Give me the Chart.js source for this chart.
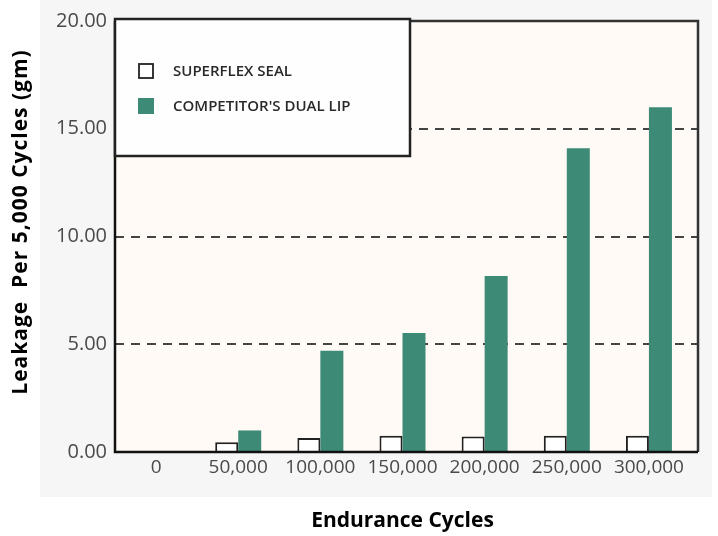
<!DOCTYPE html>
<html>
<head>
<meta charset="utf-8">
<script src="https://cdn.jsdelivr.net/npm/chart.js@4"></script>
<style>
  html, body { margin: 0; padding: 0; background: #ffffff; }
  #wrap { width: 718px; height: 536px; }
</style>
</head>
<body>
<div id="wrap"><canvas id="leakChart" width="718" height="536"></canvas></div>
<script>
// endurance cycles on the x axis
const categories = ["0", "50,000", "100,000", "150,000", "200,000", "250,000", "300,000"];
// leakage per 5,000 cycles (gm)
const superflexSeal = [0, 0.45, 0.65, 0.75, 0.72, 0.75, 0.75];
const competitorDualLip = [0, 1.0, 4.7, 5.52, 8.17, 14.1, 16.0];
const seriesLabels = ["SUPERFLEX SEAL", "COMPETITOR'S DUAL LIP"];
const yTicks = [0, 5, 10, 15, 20];
const dashedAt = [5, 10, 15];

const green = "#3d8a77";
const frameRight = 698;

// background panel, plot fill, dashed lines and the frame
const framePlugin = {
  id: "frame",
  beforeDraw(chart) {
    const ctx = chart.ctx;
    const a = chart.chartArea;
    const y = chart.scales.y;
    ctx.save();
    ctx.fillStyle = "#f6f6f6";
    ctx.fillRect(40, 0, 672, 497);
    ctx.fillStyle = "#fffaf6";
    ctx.fillRect(a.left, a.top, frameRight - a.left, a.bottom - a.top);

    ctx.strokeStyle = "#444";
    ctx.lineWidth = 2;
    ctx.setLineDash([9, 7]);
    dashedAt.forEach(v => {
      const py = Math.round(y.getPixelForValue(v));
      ctx.beginPath();
      ctx.moveTo(a.left, py);
      ctx.lineTo(frameRight, py);
      ctx.stroke();
    });
    ctx.restore();
  },
  afterDatasetsDraw(chart) {
    const ctx = chart.ctx;
    const a = chart.chartArea;
    ctx.save();
    // outer frame
    ctx.strokeStyle = "#333";
    ctx.lineWidth = 2.5;
    ctx.beginPath();
    ctx.moveTo(a.left, a.top);
    ctx.lineTo(frameRight, a.top);
    ctx.lineTo(frameRight, a.bottom);
    ctx.stroke();
    ctx.strokeStyle = "#111";
    ctx.beginPath();
    ctx.moveTo(a.left, a.top);
    ctx.lineTo(a.left, a.bottom);
    ctx.lineTo(frameRight, a.bottom);
    ctx.stroke();

    // legend box
    ctx.fillStyle = "#fefefe";
    ctx.fillRect(a.left, 19, 295, 137);
    ctx.strokeStyle = "#222";
    ctx.lineWidth = 2.5;
    ctx.strokeRect(a.left, 19, 295, 137);

    const ds = chart.data.datasets;
    const rows = [71, 106];
    ds.forEach((d, i) => {
      const cy = rows[i];
      ctx.fillStyle = d.backgroundColor;
      ctx.fillRect(138, cy - 8, 16, 16);
      if (d.borderWidth) {
        ctx.strokeStyle = "#222";
        ctx.lineWidth = 1.8;
        ctx.strokeRect(139, cy - 7, 14, 14);
      }
      ctx.fillStyle = "#2a2a2a";
      ctx.font = "600 15px 'Open Sans'";
      ctx.textBaseline = "middle";
      ctx.fillText(seriesLabels[i], 173, cy + 1, 195);
    });

    // y axis title
    ctx.translate(21, 222);
    ctx.rotate(-Math.PI / 2);
    ctx.fillStyle = "#000";
    ctx.font = "bold 21px 'Open Sans'";
    ctx.letterSpacing = "1px";
    ctx.textAlign = "center";
    ctx.textBaseline = "middle";
    ctx.fillText("Leakage  Per 5,000 Cycles (gm)", 0, 0);
    ctx.letterSpacing = "0px";
    ctx.restore();
  }
};

const ctxB = document.getElementById("leakChart").getContext("2d");
const leakChart = new Chart(ctxB, {
  type: "bar",
  data: {
    labels: categories,
    datasets: [{
      label: seriesLabels[0],
      data: superflexSeal,
      backgroundColor: "#ffffff",
      borderColor: "#222",
      borderWidth: 2,
      borderSkipped: "bottom"
    }, {
      label: seriesLabels[1],
      data: competitorDualLip,
      backgroundColor: green,
      borderWidth: 0
    }]
  },
  options: {
    responsive: false,
    animation: false,
    layout: { padding: { top: 21, right: 28, left: 0, bottom: 0 } },
    plugins: {
      legend: { display: false },
      tooltip: { enabled: false }
    },
    datasets: {
      bar: { categoryPercentage: 0.56, barPercentage: 1.0 }
    },
    scales: {
      x: {
        grid: { display: false, drawTicks: false },
        border: { display: false },
        ticks: {
          color: "#4a4a4a",
          font: { family: "'Open Sans'", size: 19 },
          padding: 4,
          maxRotation: 0,
          autoSkip: false
        },
        title: {
          display: true,
          text: "Endurance Cycles",
          color: "#000",
          font: { family: "'Open Sans'", size: 21, weight: "bold" },
          padding: { top: 0, bottom: 2 }
        },
        afterFit(scale) { scale.height = 536 - 452; }
      },
      y: {
        min: 0,
        max: 20,
        afterBuildTicks(scale) { scale.ticks = yTicks.map(v => ({ value: v })); },
        grid: { display: false, drawTicks: false },
        border: { display: false },
        ticks: {
          color: "#4a4a4a",
          font: { family: "'Open Sans'", size: 20 },
          padding: 8,
          callback: v => v.toFixed(2)
        },
        afterFit(scale) { scale.width = 115; }
      }
    }
  },
  plugins: [framePlugin]
});
</script>
</body>
</html>
